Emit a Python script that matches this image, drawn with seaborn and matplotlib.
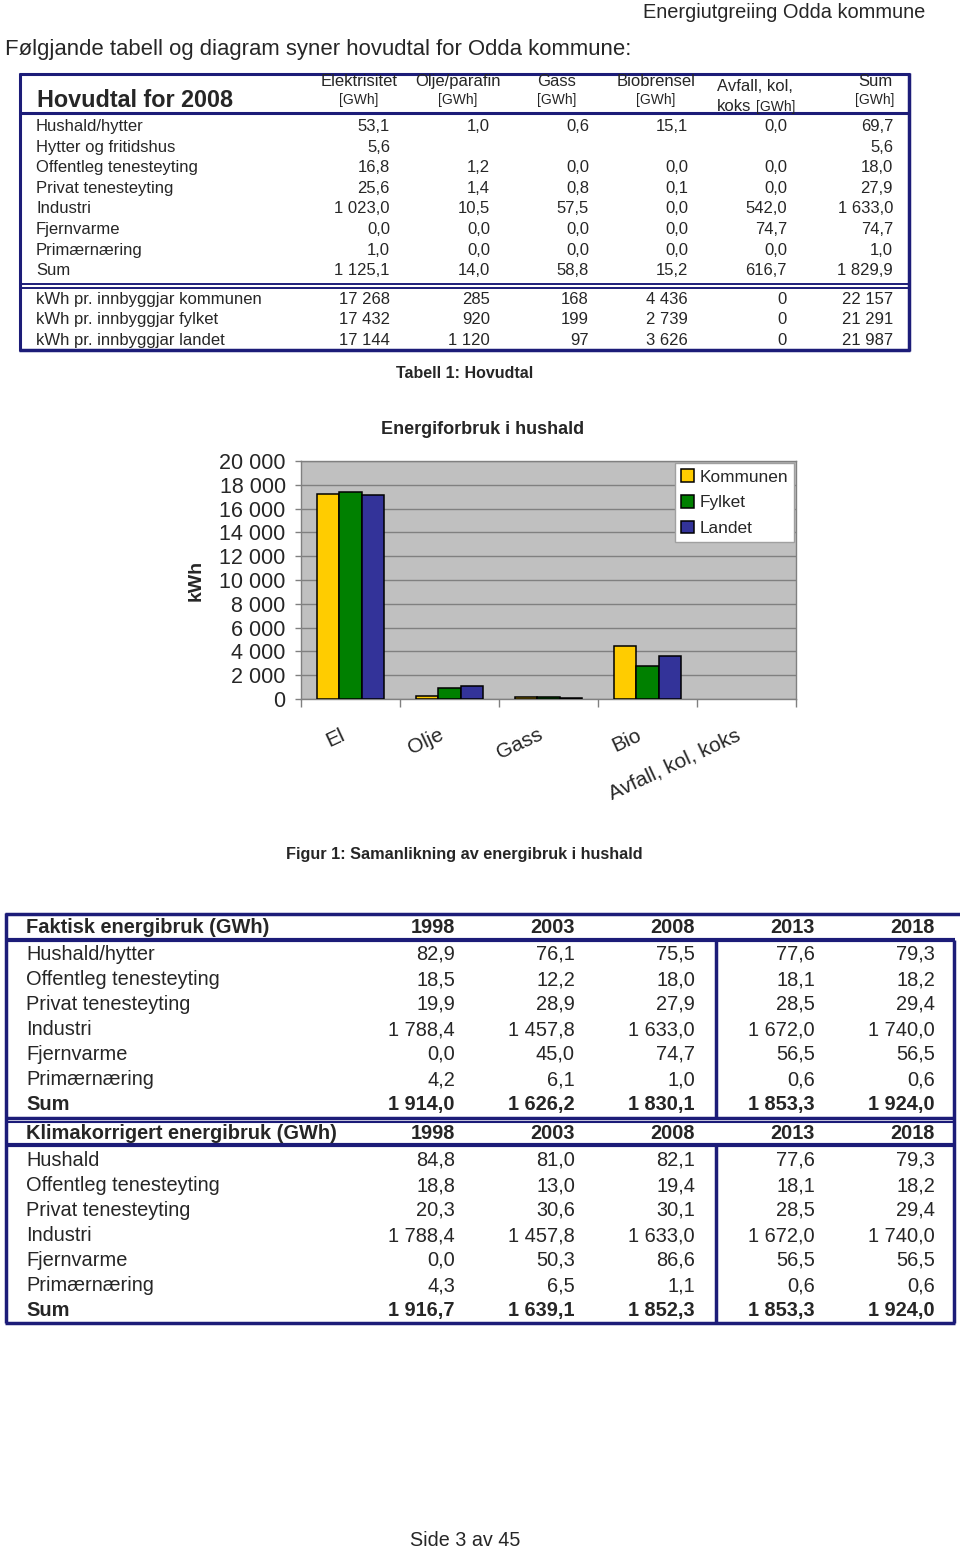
import numpy as np
import pandas as pd
import matplotlib
matplotlib.use("Agg")
import matplotlib.pyplot as plt
import seaborn as sns
from matplotlib.ticker import FuncFormatter, FixedLocator
from matplotlib.transforms import ScaledTranslation

sns.set_style("white")
plt.rcParams['font.family'] = ['Liberation Sans', 'DejaVu Sans']

# ---- data: table 1 (Hovudtal for 2008) ----
hovud_rows = ["Hushald/hytter", "Hytter og fritidshus", "Offentleg tenesteyting",
              "Privat tenesteyting", "Industri", "Fjernvarme", "Primærnæring", "Sum"]
el_gwh = [53.1, 5.6, 16.8, 25.6, 1023.0, 0.0, 1.0, 1125.1]
olje_gwh = [1.0, None, 1.2, 1.4, 10.5, 0.0, 0.0, 14.0]
gass_gwh = [0.6, None, 0.0, 0.8, 57.5, 0.0, 0.0, 58.8]
bio_gwh = [15.1, None, 0.0, 0.1, 0.0, 0.0, 0.0, 15.2]
avfall_gwh = [0.0, None, 0.0, 0.0, 542.0, 74.7, 0.0, 616.7]
sum_gwh = [69.7, 5.6, 18.0, 27.9, 1633.0, 74.7, 1.0, 1829.9]

kwh_rows = ["kWh pr. innbyggjar kommunen", "kWh pr. innbyggjar fylket",
            "kWh pr. innbyggjar landet"]
energikjelder = ["El", "Olje", "Gass", "Bio", "Avfall, kol, koks"]
kommunen = [17268, 285, 168, 4436, 0]
fylket = [17432, 920, 199, 2739, 0]
landet = [17144, 1120, 97, 3626, 0]
kwh_sum = [22157, 21291, 21987]

# ---- data: lower tables ----
years = ["1998", "2003", "2008", "2013", "2018"]
fakt_rows = ["Hushald/hytter", "Offentleg tenesteyting", "Privat tenesteyting",
             "Industri", "Fjernvarme", "Primærnæring", "Sum"]
fakt_1998 = [82.9, 18.5, 19.9, 1788.4, 0.0, 4.2, 1914.0]
fakt_2003 = [76.1, 12.2, 28.9, 1457.8, 45.0, 6.1, 1626.2]
fakt_2008 = [75.5, 18.0, 27.9, 1633.0, 74.7, 1.0, 1830.1]
fakt_2013 = [77.6, 18.1, 28.5, 1672.0, 56.5, 0.6, 1853.3]
fakt_2018 = [79.3, 18.2, 29.4, 1740.0, 56.5, 0.6, 1924.0]

klima_rows = ["Hushald", "Offentleg tenesteyting", "Privat tenesteyting",
              "Industri", "Fjernvarme", "Primærnæring", "Sum"]
klima_1998 = [84.8, 18.8, 20.3, 1788.4, 0.0, 4.3, 1916.7]
klima_2003 = [81.0, 13.0, 30.6, 1457.8, 50.3, 6.5, 1639.1]
klima_2008 = [82.1, 19.4, 30.1, 1633.0, 86.6, 1.1, 1852.3]
klima_2013 = [77.6, 18.1, 28.5, 1672.0, 56.5, 0.6, 1853.3]
klima_2018 = [79.3, 18.2, 29.4, 1740.0, 56.5, 0.6, 1924.0]


def fmt(v, dec=1):
    # norwegian style: space as thousands sep, comma decimal
    if v is None:
        return ""
    return f"{v:,.{dec}f}".replace(",", " ").replace(".", ",")


navy = "#1c1c78"
W, H = 960, 1548
fig = plt.figure(figsize=(9.6, 15.48), dpi=100)
bg = fig.add_axes([0, 0, 1, 1])
bg.set_xlim(0, W)
bg.set_ylim(H, 0)
bg.axis("off")


def hline(y, x0, x1, lw=2.0):
    bg.plot([x0, x1], [y, y], color=navy, lw=lw, solid_capstyle="butt")


def vline(x, y0, y1, lw=2.0):
    bg.plot([x, x], [y0, y1], color=navy, lw=lw, solid_capstyle="butt")


# page header
bg.text(925, 12, "Energiutgreiing Odda kommune", ha="right", va="center", fontsize=14.4)
bg.text(5, 49, "Følgjande tabell og diagram syner hovudtal for Odda kommune:",
        ha="left", va="center", fontsize=15.9)

# ---- table 1 ----  (y values below are text baselines)
bg.text(37, 107, "Hovudtal for 2008", ha="left", va="baseline", fontsize=16.8, fontweight="bold")
col_right = [390, 490, 589, 688, 787, 893]
hdr_center = [359, 458, 557, 656, None, 875]
hdr_names = ["Elektrisitet", "Olje/parafin", "Gass", "Biobrensel", None, "Sum"]
for xc, name in zip(hdr_center, hdr_names):
    if name is None:
        continue
    bg.text(xc, 86, name, ha="center", va="baseline", fontsize=12)
    bg.text(xc, 104, "[GWh]", ha="center", va="baseline", fontsize=10)
bg.text(717, 91, "Avfall, kol,", ha="left", va="baseline", fontsize=12)
bg.text(717, 111, "koks", ha="left", va="baseline", fontsize=12)
bg.text(756, 111, "[GWh]", ha="left", va="baseline", fontsize=10)

row_y1 = [131, 152, 172, 193, 213, 234, 255, 275]
cols1 = [el_gwh, olje_gwh, gass_gwh, bio_gwh, avfall_gwh, sum_gwh]
for i, (lab, y) in enumerate(zip(hovud_rows, row_y1)):
    bg.text(36, y, lab, ha="left", va="baseline", fontsize=12)
    for xr, col in zip(col_right, cols1):
        bg.text(xr, y, fmt(col[i]), ha="right", va="baseline", fontsize=12)

row_y2 = [304, 324, 345]
kwh_cols = [kommunen, fylket, landet]
for i, (lab, y) in enumerate(zip(kwh_rows, row_y2)):
    bg.text(36, y, lab, ha="left", va="baseline", fontsize=12)
    vals = kwh_cols[i] + [kwh_sum[i]]
    for xr, v in zip(col_right, vals):
        bg.text(xr, y, fmt(v, 0), ha="right", va="baseline", fontsize=12)

hline(74, 19, 910, 2.2)
hline(113, 19, 910, 2.2)
hline(283.5, 19, 910, 1.4)
hline(287.5, 19, 910, 1.4)
hline(350, 19, 910, 2.5)
vline(20, 73, 351, 2.2)
vline(909, 73, 351, 2.5)
bg.text(465, 374, "Tabell 1: Hovudtal", ha="center", va="center", fontsize=11.5, fontweight="bold")

# ---- chart ----
bg.text(483, 429, "Energiforbruk i hushald", ha="center", va="center", fontsize=13, fontweight="bold")
ax = fig.add_axes([301 / W, 1 - 699 / H, 495 / W, 238 / H])
df = pd.DataFrame({
    "kategori": energikjelder * 3,
    "kWh": kommunen + fylket + landet,
    "område": ["Kommunen"] * 5 + ["Fylket"] * 5 + ["Landet"] * 5,
})
sns.barplot(data=df, x="kategori", y="kWh", hue="område", ax=ax,
            palette=["#FFCC00", "#008000", "#333399"], width=0.68,
            edgecolor="black", linewidth=1.1, saturation=1, zorder=3)
# zero-height bars are not drawn in the original
for cont in ax.containers:
    for bar in cont:
        if bar.get_height() == 0:
            bar.set_linewidth(0)
ax.set_facecolor("#C0C0C0")
ax.set_ylim(0, 20000)
ax.set_xlim(-0.5, 4.5)
ax.set_yticks(np.arange(0, 20001, 2000))
ax.yaxis.set_major_formatter(FuncFormatter(lambda v, p: fmt(v, 0)))
ax.grid(axis="y", color="#808080", lw=1, zorder=0)
ax.set_axisbelow(True)
for s in ax.spines.values():
    s.set_color("#808080")
    s.set_linewidth(1)
ax.tick_params(axis="y", length=4, width=1, color="#808080", pad=7, labelsize=15.5, left=True)
ax.set_xlabel("")
ax.set_ylabel("kWh", fontsize=14, fontweight="bold")
ax.yaxis.set_label_coords(-0.194, 0.5)
ax.set_xticks(range(5))
ax.set_xticklabels(energikjelder, rotation=25, ha="right", va="top",
                   rotation_mode="anchor", fontsize=15)
ax.tick_params(axis="x", which="major", length=0, pad=19)
ax.xaxis.set_minor_locator(FixedLocator(np.arange(-0.5, 4.6, 1)))
ax.tick_params(axis="x", which="minor", length=6, width=1, color="#808080", bottom=True)
for lbl in ax.get_xticklabels():
    lbl.set_transform(lbl.get_transform() + ScaledTranslation(-8 / 72, 0, fig.dpi_scale_trans))

handles, labels = ax.get_legend_handles_labels()
for hd in handles:
    hd.set_edgecolor("black")
    hd.set_linewidth(1.1)
leg = ax.legend(handles, labels, loc="upper right", bbox_to_anchor=(0.996, 0.99),
                borderaxespad=0, fancybox=False, framealpha=1, edgecolor="#A0A0A0",
                fontsize=12.4, handlelength=0.75, handleheight=0.75, handletextpad=0.3,
                labelspacing=0.6, borderpad=0.35)
leg.get_frame().set_linewidth(1)

bg.text(464, 854, "Figur 1: Samanlikning av energibruk i hushald", ha="center", va="center",
        fontsize=11.7, fontweight="bold")


# ---- lower tables ----
low_right = [455, 575, 695, 815, 935]


def draw_table(title, rows, cols, y_head, y_rows):
    bg.text(26, y_head, title, ha="left", va="baseline", fontsize=14.4, fontweight="bold")
    for xr, yr in zip(low_right, years):
        bg.text(xr, y_head, yr, ha="right", va="baseline", fontsize=14.4, fontweight="bold")
    for i, (lab, y) in enumerate(zip(rows, y_rows)):
        wt = "bold" if lab == "Sum" else "normal"
        bg.text(26, y, lab, ha="left", va="baseline", fontsize=14.4, fontweight=wt)
        for xr, col in zip(low_right, cols):
            bg.text(xr, y, fmt(col[i]), ha="right", va="baseline", fontsize=14.4, fontweight=wt)


draw_table("Faktisk energibruk (GWh)", fakt_rows,
           [fakt_1998, fakt_2003, fakt_2008, fakt_2013, fakt_2018],
           933, [960, 985, 1010, 1035, 1060, 1085, 1110])
draw_table("Klimakorrigert energibruk (GWh)", klima_rows,
           [klima_1998, klima_2003, klima_2008, klima_2013, klima_2018],
           1139, [1166, 1191, 1216, 1241, 1266, 1291, 1316])

hline(914, 5, 960, 2.5)
hline(940, 5, 955, 3)
hline(1118, 5, 955, 2.5)
hline(1122, 5, 955, 1.5)
hline(1145, 5, 955, 3)
hline(1323, 5, 955, 2.5)
vline(6, 913, 1323, 2.5)
vline(954, 940, 1323, 2.5)
vline(716, 940, 1118, 2.5)
vline(716, 1145, 1323, 2.5)

bg.text(465, 1541, "Side 3 av 45", ha="center", va="center", fontsize=14.2)

fig.savefig("out.png", dpi=100)
